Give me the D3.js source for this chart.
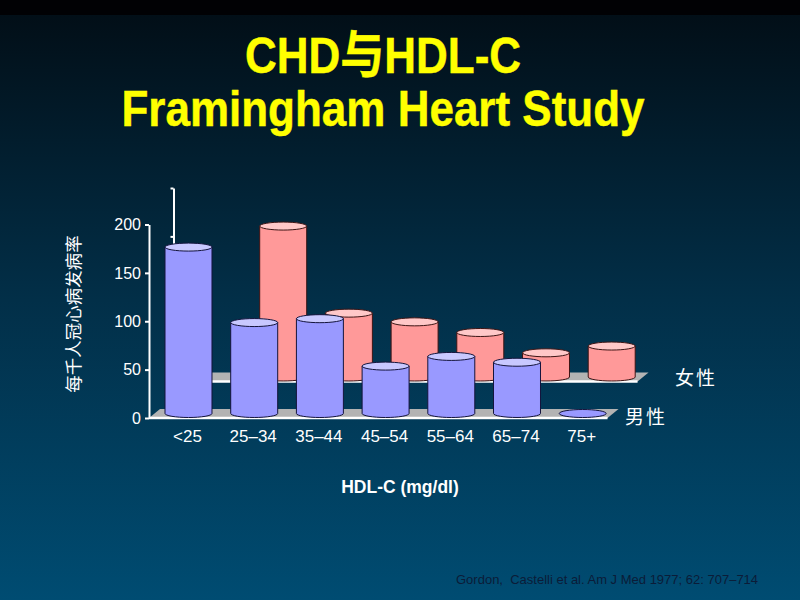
<!DOCTYPE html>
<html>
<head>
<meta charset="utf-8">
<script src="https://cdn.jsdelivr.net/npm/d3@7"></script>
<style>
  html, body { margin: 0; padding: 0; background: #000; }
  svg { display: block; }
</style>
</head>
<body>
<svg id="chart" width="800" height="600"></svg>
<script>
// ---- data ----
const titleLines = ["CHD与HDL-C", "Framingham Heart Study"];
const categories = ["<25", "25–34", "35–44", "45–54", "55–64", "65–74", "75+"];
const maleValues = [172, 94, 98, 49, 59, 53, 0];
const femaleValues = [null, 156, 66, 57, 46, 25, 32];
const seriesNames = ["男性", "女性"];
const yTicks = [0, 50, 100, 150, 200];
const yAxisTitle = "每千人冠心病发病率";
const xAxisTitle = "HDL-C (mg/dl)";
const sourceNote = "Gordon,  Castelli et al. Am J Med 1977; 62: 707–714";

const svg = d3.select("#chart");
const W = 800, H = 600;
const latin = "'Liberation Sans', Arial, 'Noto Sans CJK SC', sans-serif";
const cjk = "'Noto Sans CJK SC', 'Liberation Sans', sans-serif";

// ---- background ----
const defs = svg.append("defs");
const bg = defs.append("linearGradient").attr("id", "bg")
  .attr("x1", 0).attr("y1", 0).attr("x2", 0).attr("y2", 1);
bg.append("stop").attr("offset", "0").attr("stop-color", "#020d15");
bg.append("stop").attr("offset", "0.5").attr("stop-color", "#022f48");
bg.append("stop").attr("offset", "1").attr("stop-color", "#004c72");
svg.append("rect").attr("width", W).attr("height", H).attr("fill", "url(#bg)");
svg.append("rect").attr("width", W).attr("height", 15).attr("fill", "#010104");

// ---- title ----
const titleBaselines = [73, 126];
titleLines.forEach((t, i) => {
  svg.append("text")
    .attr("transform", `translate(383,${titleBaselines[i]}) scale(1,1.15)`)
    .attr("text-anchor", "middle")
    .attr("font-family", latin)
    .attr("font-weight", "bold")
    .attr("font-size", 44)
    .attr("fill", "#ffff00")
    .attr("stroke", "#ffff00").attr("stroke-width", 0.4)
    .text(t);
});

// ---- scales ----
const x = d3.scaleBand().domain(categories)
  .range([155.65, 615.55]).paddingInner(0.285).paddingOuter(0.1425);
const y = d3.scaleLinear().domain([0, 200]).range([418, 224.5]);
const bw = x.bandwidth();
const ry = 4;
const barDy = -4.5;              // bars sit mid-depth of the floor
const floorDx = 11, floorDy = -9;
const backShift = { dx: 29, dy: -36.5 };   // female row sits behind
const backAxisX = 173.5;

const maleColors = { body: "#9999ff", top: "#c8c8ff", stroke: "#14143c" };
const femaleColors = { body: "#ff9999", top: "#ffc8c8", stroke: "#3c1414" };

function drawFloor(g, x0, x1, y0) {
  g.append("path")
    .attr("d", `M${x0},${y0} L${x1},${y0} L${x1 + floorDx},${y0 + floorDy} L${x0 + floorDx},${y0 + floorDy} Z`)
    .attr("fill", "#b3b3b3");
  g.append("line")
    .attr("x1", x0).attr("x2", x1).attr("y1", y0).attr("y2", y0)
    .attr("stroke", "#ffffff").attr("stroke-width", 2.5);
}

function drawBars(g, values, colors) {
  const data = categories.map((c, i) => ({ c, v: values[i] })).filter(d => d.v !== null);
  const bars = g.selectAll("g.bar").data(data).join("g").attr("class", "bar");
  bars.each(function (d) {
    const gg = d3.select(this);
    const cx = x(d.c) + bw / 2;
    const r = bw / 2;
    const yb = y(0) + barDy;
    const yt = y(d.v) + barDy;
    if (d.v > 0) {
      gg.append("path")
        .attr("d", `M${cx - r},${yt} L${cx - r},${yb} A${r},${ry} 0 0 0 ${cx + r},${yb} L${cx + r},${yt} Z`)
        .attr("fill", colors.body)
        .attr("stroke", colors.stroke).attr("stroke-width", 1);
    }
    gg.append("ellipse")
      .attr("cx", cx).attr("cy", yt).attr("rx", r).attr("ry", ry)
      .attr("fill", d.v > 0 ? colors.top : colors.body)
      .attr("stroke", colors.stroke).attr("stroke-width", 1);
  });
}

// ---- back (female) row ----
const back = svg.append("g");
const floorRight = x.range()[1] - 8;
drawFloor(back, backAxisX, floorRight + backShift.dx + 1, y(0) + backShift.dy);

const backAxis = svg.append("g")
  .attr("transform", `translate(${backAxisX},${backShift.dy})`)
  .call(d3.axisLeft(y).tickValues(yTicks).tickSize(3).tickSizeOuter(0).tickFormat(""));
backAxis.selectAll("path, line").attr("stroke", "#ffffff").attr("stroke-width", 2);

const femaleG = svg.append("g").attr("transform", `translate(${backShift.dx},${backShift.dy})`);
drawBars(femaleG, femaleValues, femaleColors);

// ---- front (male) row ----
const front = svg.append("g");
drawFloor(front, 149, floorRight, y(0));

const frontAxis = svg.append("g")
  .attr("transform", "translate(149,0)")
  .call(d3.axisLeft(y).tickValues(yTicks).tickSize(4).tickSizeOuter(0).tickPadding(4));
frontAxis.selectAll("path, line").attr("stroke", "#ffffff").attr("stroke-width", 2);
frontAxis.selectAll("text")
  .attr("fill", "#ffffff")
  .attr("font-family", latin)
  .attr("font-size", 16);

const maleG = svg.append("g");
drawBars(maleG, maleValues, maleColors);

// ---- category labels ----
svg.append("g").selectAll("text").data(categories).join("text")
  .attr("x", d => x(d) + bw / 2 - 1)
  .attr("y", 442)
  .attr("text-anchor", "middle")
  .attr("font-family", latin)
  .attr("font-size", 17)
  .attr("fill", "#ffffff")
  .text(d => d);

// ---- axis titles ----
svg.append("text")
  .attr("x", 400).attr("y", 493)
  .attr("text-anchor", "middle")
  .attr("font-family", latin)
  .attr("font-weight", "bold")
  .attr("font-size", 17.5)
  .attr("fill", "#ffffff")
  .text(xAxisTitle);

svg.append("text")
  .attr("transform", "translate(80,314) rotate(-90)")
  .attr("text-anchor", "middle")
  .attr("font-family", cjk)
  .attr("font-size", 17.5)
  .attr("fill", "#ffffff")
  .text(yAxisTitle);

// ---- series labels ----
const seriesPos = [{ x: 625, y: 424 }, { x: 675, y: 385 }];
seriesNames.forEach((s, i) => {
  svg.append("text")
    .attr("x", seriesPos[i].x).attr("y", seriesPos[i].y)
    .attr("font-family", cjk)
    .attr("font-size", 19)
    .attr("letter-spacing", 2)
    .attr("fill", "#ffffff")
    .text(s);
});

// ---- source ----
svg.append("text")
  .attr("x", 456).attr("y", 584)
  .attr("font-family", latin)
  .attr("font-size", 13)
  .attr("fill", "#0b1c38")
  .style("white-space", "pre")
  .text(sourceNote);
</script>
</body>
</html>
